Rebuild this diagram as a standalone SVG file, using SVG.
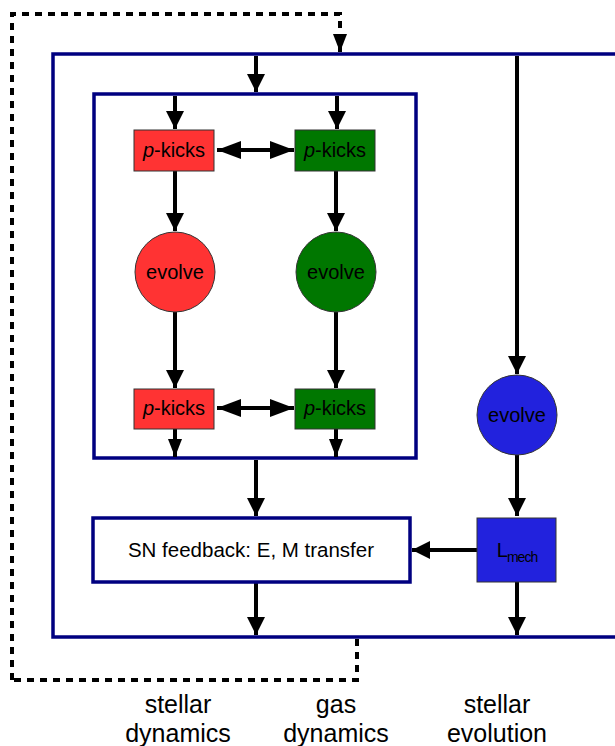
<svg xmlns="http://www.w3.org/2000/svg" width="615" height="746" viewBox="0 0 615 746">
<style>
.frame{fill:none;stroke:#000080;stroke-width:3.5}
.box{stroke:#333;stroke-width:1}
.lbl{font-family:"Liberation Sans",Arial,sans-serif;font-size:20px;fill:#000;text-anchor:middle}
.sn{font-size:20.5px}
.cap{font-family:"Liberation Sans",Arial,sans-serif;font-size:25px;fill:#000;text-anchor:middle}
.ln{stroke:#000;stroke-width:4;fill:none}
.dash{stroke:#000;stroke-width:4;fill:none;stroke-dasharray:7 6}
</style>
<defs>
<marker id="ah" markerUnits="userSpaceOnUse" markerWidth="18" markerHeight="24" viewBox="0 0 18 24" refX="18" refY="9" orient="auto">
<path d="M0,0 L18,9 L0,18 Z" fill="#000"/>
</marker>
<marker id="ahs" markerUnits="userSpaceOnUse" markerWidth="18" markerHeight="24" viewBox="0 0 18 24" refX="18" refY="7" orient="auto">
<path d="M0,0 L18,7 L0,14 Z" fill="#000"/>
</marker>
<marker id="ahb" markerUnits="userSpaceOnUse" markerWidth="24" markerHeight="24" viewBox="0 0 24 24" refX="24" refY="9" orient="auto-start-reverse">
<path d="M0,0 L24,9 L0,18 Z" fill="#000"/>
</marker>
</defs>

<g id="outer-frame"><rect class="frame" x="53" y="54" width="600" height="583"/></g>
<g id="inner-frame"><rect class="frame" x="94" y="94" width="322" height="364"/></g>

<g id="connectors">
<path class="dash" d="M12,680 L12,14 L340,14 L340,34" />
<path class="ln" d="M340,34 L340,52" marker-end="url(#ahs)"/>
<path class="dash" d="M357,639 L357,680 L12,680"/>
<path class="ln" d="M256,56 L256,92" marker-end="url(#ah)"/>
<path class="ln" d="M175,96 L175,129" marker-end="url(#ah)"/>
<path class="ln" d="M337,96 L337,129" marker-end="url(#ah)"/>
<path class="ln" d="M217,150 L294,150" marker-start="url(#ahb)" marker-end="url(#ahb)"/>
<path class="ln" d="M175,171 L175,231" marker-end="url(#ah)"/>
<path class="ln" d="M336,171 L336,231" marker-end="url(#ah)"/>
<path class="ln" d="M175,312 L175,388" marker-end="url(#ah)"/>
<path class="ln" d="M336,312 L336,388" marker-end="url(#ah)"/>
<path class="ln" d="M217,408 L294,408" marker-start="url(#ahb)" marker-end="url(#ahb)"/>
<path class="ln" d="M175,429 L175,457" marker-end="url(#ahs)"/>
<path class="ln" d="M336,429 L336,457" marker-end="url(#ahs)"/>
<path class="ln" d="M256,460 L256,516" marker-end="url(#ah)"/>
<path class="ln" d="M517,56 L517,374" marker-end="url(#ah)"/>
<path class="ln" d="M517,455 L517,516" marker-end="url(#ah)"/>
<path class="ln" d="M477,550 L412,550" marker-end="url(#ah)"/>
<path class="ln" d="M256,582 L256,635" marker-end="url(#ah)"/>
<path class="ln" d="M517,582 L517,635" marker-end="url(#ah)"/>
</g>

<g id="pk-red-top"><rect class="box" x="134" y="130" width="80" height="41" fill="#ff3333"/><text class="lbl" x="174" y="157"><tspan font-style="italic">p</tspan>-kicks</text></g>
<g id="pk-green-top"><rect class="box" x="295" y="130" width="80" height="41" fill="#007700"/><text class="lbl" x="335" y="157"><tspan font-style="italic">p</tspan>-kicks</text></g>
<g id="evolve-red"><circle class="box" cx="175" cy="272" r="40" fill="#ff3333"/><text class="lbl" x="175" y="279">evolve</text></g>
<g id="evolve-green"><circle class="box" cx="336" cy="272" r="40" fill="#007700"/><text class="lbl" x="336" y="279">evolve</text></g>
<g id="pk-red-bot"><rect class="box" x="134" y="389" width="80" height="40" fill="#ff3333"/><text class="lbl" x="174" y="415"><tspan font-style="italic">p</tspan>-kicks</text></g>
<g id="pk-green-bot"><rect class="box" x="295" y="389" width="80" height="40" fill="#007700"/><text class="lbl" x="335" y="415"><tspan font-style="italic">p</tspan>-kicks</text></g>
<g id="evolve-blue"><circle class="box" cx="517" cy="415" r="40" fill="#2222dd"/><text class="lbl" x="517" y="422">evolve</text></g>
<g id="sn-feedback"><rect class="frame" x="93" y="518" width="317" height="64" fill="#fff"/><text class="lbl sn" x="251" y="557">SN feedback: E, M transfer</text></g>
<g id="lmech"><rect class="box" x="477" y="518" width="79" height="64" fill="#2222dd"/><text class="lbl" x="517" y="557" letter-spacing="-1">L<tspan font-size="14" dy="5">mech</tspan></text></g>

<g id="captions">
<text class="cap" x="178" y="713">stellar</text><text class="cap" x="178" y="742">dynamics</text>
<text class="cap" x="336" y="713">gas</text><text class="cap" x="336" y="742">dynamics</text>
<text class="cap" x="497" y="713">stellar</text><text class="cap" x="497" y="742">evolution</text>
</g>
</svg>
